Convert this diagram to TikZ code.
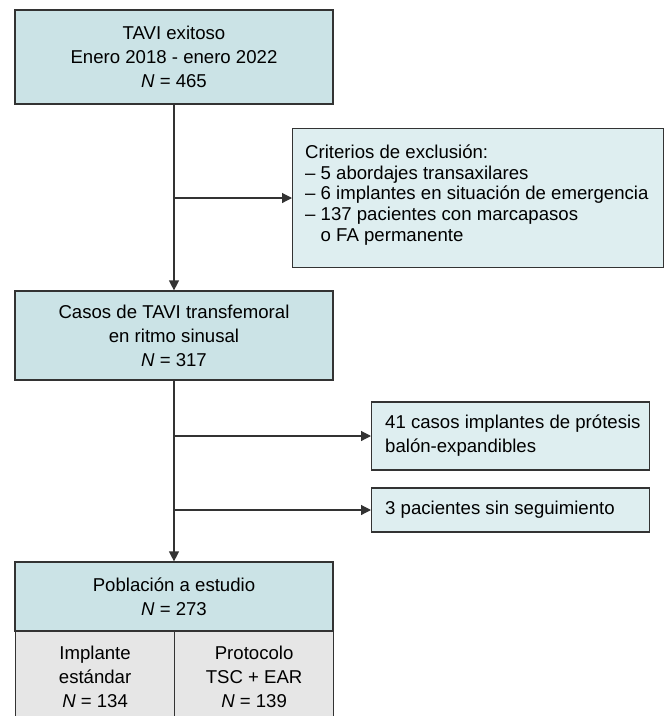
\documentclass[tikz,border=0pt]{standalone}
\usepackage{fontspec}
\setmainfont{Liberation Sans}
\usetikzlibrary{arrows.meta}
\definecolor{bmain}{HTML}{CBE3E6}
\definecolor{blight}{HTML}{DEEEF0}
\definecolor{cgrey}{HTML}{E6E6E6}
\definecolor{edge}{HTML}{333333}
\begin{document}
\begin{tikzpicture}[x=1pt,y=-1pt,
  txt/.style={font=\fontsize{18.6}{24}\selectfont},
  mainbox/.style={draw=edge,line width=1.2pt,fill=bmain,txt,align=center,inner sep=0pt,minimum width=318pt},
  framebox/.style={draw=edge,line width=1.2pt,fill=blight,anchor=west},
  cell/.style={draw=edge,line width=1.2pt,fill=cgrey,txt,align=center,inner sep=0pt,minimum width=159pt,minimum height=90pt},
  conn/.style={draw=edge,line width=1.2pt},
  arr/.style={conn,-{Triangle[length=10pt,width=10pt]}}]
\useasboundingbox (0,0) rectangle (670,716);
\node[mainbox,minimum height=94pt] (b1) at (174,57) {TAVI exitoso\\Enero 2018 - enero 2022\\\textit{N} = 465};
\node[mainbox,minimum height=89pt] (b2) at (174,335.5) {Casos de TAVI transfemoral\\en ritmo sinusal\\\textit{N} = 317};
\node[framebox,minimum width=371pt,minimum height=139pt] (b3) at (292,198) {};
\node[font=\fontsize{18.6}{20.6}\selectfont,align=left,anchor=west,inner sep=0pt] (t3) at (305,195) {Criterios de exclusión:\\– 5 abordajes transaxilares\\– 6 implantes en situación de emergencia\\– 137 pacientes con marcapasos\\\phantom{–} o FA permanente};
\node[framebox,minimum width=278pt,minimum height=68pt] (b5) at (371,436) {};
\node[txt,align=left,anchor=west,inner sep=0pt] (t5) at (385,436) {41 casos implantes de prótesis\\balón-expandibles};
\node[framebox,minimum width=278pt,minimum height=44pt] (b6) at (371,510) {};
\node[txt,anchor=west,inner sep=0pt] (t6) at (385,510) {3 pacientes sin seguimiento};
\node[cell,anchor=north west] (c1) at (15,631) {Implante\\estándar\\\textit{N} = 134};
\node[cell,anchor=north west] (c2) at (174,631) {Protocolo\\TSC + EAR\\\textit{N} = 139};
\node[mainbox,minimum height=69pt] (b4) at (174,596.5) {Población a estudio\\\textit{N} = 273};
\coordinate (j1) at (b1.south |- b3.west);
\coordinate (j2) at (b2.south |- b5.west);
\coordinate (j3) at (b2.south |- b6.west);
\draw[arr] (b1.south) -- (b2.north);
\draw[arr] (j1) -- (b3.west);
\draw[arr] (b2.south) -- (b4.north);
\draw[arr] (j2) -- (b5.west);
\draw[arr] (j3) -- (b6.west);
\end{tikzpicture}
\end{document}
